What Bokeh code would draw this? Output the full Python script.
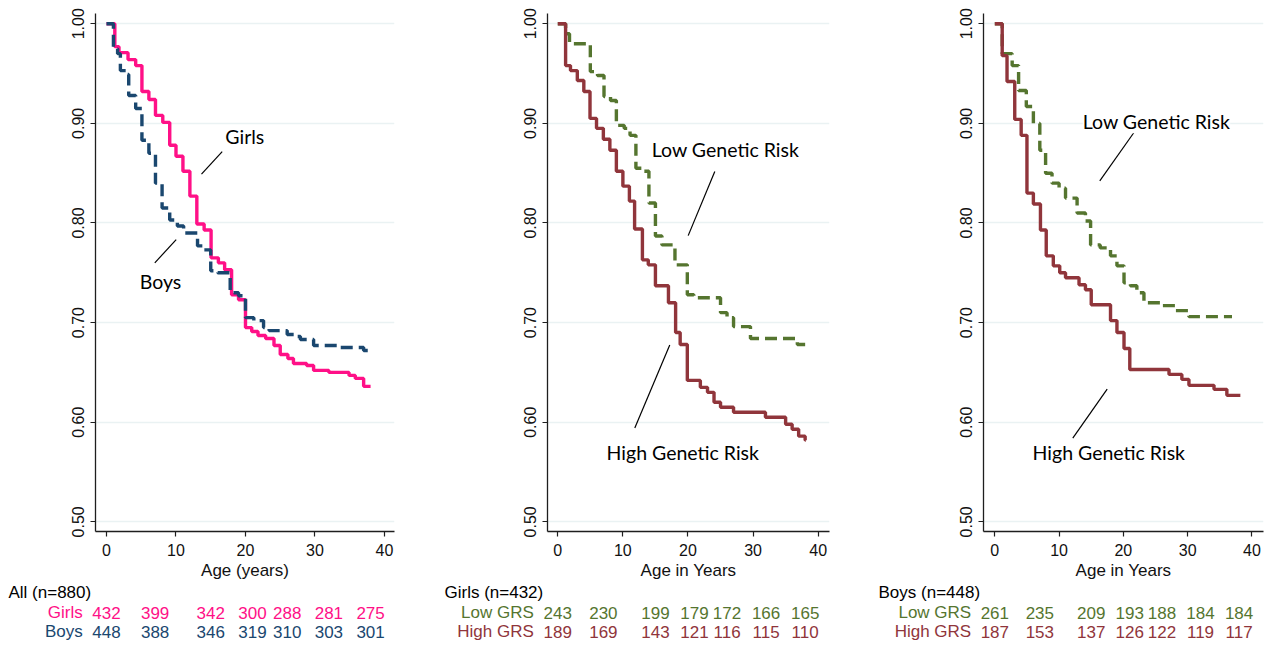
from bokeh.plotting import figure
from bokeh.layouts import row, column
from bokeh.models import Range1d, FixedTicker, PrintfTickFormatter, Label
from bokeh.embed import file_html
from bokeh.resources import INLINE
from bokeh.core.properties import value

# ---------------- data ----------------
x_ticks = [0, 10, 20, 30, 40]
y_ticks = [0.5, 0.6, 0.7, 0.8, 0.9, 1.0]

# Panel 1: all children
girls_age = [0, 1.2, 1.8, 3.1, 4.2, 5.1, 6.1, 7.05, 8.1, 9.1, 10.0, 11.0, 12.0, 13.0, 14.05, 15.05,
             16.1, 17.0, 18.0, 19.0, 20.0, 20.9, 21.8, 22.9, 24.1, 25.0, 26.1, 26.9, 28.8, 29.8,
             32.0, 34.9, 35.8, 37.0, 38.0]
girls_surv = [1.0, 0.977, 0.971, 0.964, 0.958, 0.932, 0.924, 0.908, 0.901, 0.878, 0.867, 0.852, 0.827,
              0.799, 0.793, 0.765, 0.760, 0.753, 0.728, 0.723, 0.695, 0.691, 0.687, 0.684, 0.677,
              0.668, 0.664, 0.659, 0.657, 0.652, 0.650, 0.647, 0.644, 0.636, 0.636]
boys_age = [0, 1.0, 1.6, 2.0, 2.8, 3.2, 4.2, 5.1, 6.1, 7.05, 8.0, 9.1, 10.2, 11.1, 13.1, 14.0, 15.0,
            16.0, 17.8, 19.0, 20.0, 21.2, 22.6, 23.4, 26.0, 27.0, 27.9, 29.8, 33.2, 37.0, 38.0]
boys_surv = [1.0, 0.975, 0.970, 0.953, 0.949, 0.928, 0.915, 0.883, 0.870, 0.840, 0.815, 0.803, 0.797,
             0.790, 0.777, 0.773, 0.752, 0.750, 0.730, 0.727, 0.705, 0.702, 0.695, 0.692, 0.688,
             0.686, 0.683, 0.677, 0.675, 0.672, 0.672]

# Panel 2: girls by genetic risk score
girls_low_age = [0, 1.2, 1.8, 5.0, 6.1, 7.1, 8.1, 9.0, 10.2, 11.1, 12.0, 13.0, 14.0, 15.0, 16.0, 18.0,
                 19.9, 20.9, 25.0, 26.0, 27.0, 29.6, 36.8, 38.0]
girls_low_surv = [1.0, 0.990, 0.980, 0.952, 0.948, 0.927, 0.923, 0.898, 0.895, 0.888, 0.855, 0.852,
                  0.820, 0.787, 0.778, 0.758, 0.728, 0.725, 0.710, 0.705, 0.696, 0.684, 0.678, 0.678]
girls_high_age = [0, 1.2, 1.95, 3.0, 4.0, 4.95, 5.95, 7.0, 8.0, 9.0, 10.0, 11.0, 11.8, 13.0, 13.9, 15.0,
                  17.0, 18.1, 18.8, 19.9, 21.9, 23.0, 24.0, 25.0, 27.0, 31.9, 35.0, 36.0, 37.0, 38.0, 38.1]
girls_high_surv = [1.0, 0.958, 0.953, 0.943, 0.932, 0.905, 0.895, 0.884, 0.873, 0.852, 0.837, 0.822,
                   0.794, 0.763, 0.758, 0.737, 0.720, 0.690, 0.678, 0.642, 0.635, 0.630, 0.620, 0.615,
                   0.610, 0.605, 0.598, 0.593, 0.586, 0.582, 0.582]

# Panel 3: boys by genetic risk score
boys_low_age = [0, 1.15, 2.7, 3.7, 4.9, 6.0, 7.0, 7.9, 8.9, 10.0, 11.0, 12.8, 14.1, 14.9, 16.4, 18.0,
                19.0, 20.1, 21.1, 22.1, 23.2, 26.0, 28.1, 30.2, 36.9]
boys_low_surv = [1.0, 0.970, 0.958, 0.933, 0.917, 0.900, 0.873, 0.850, 0.840, 0.835, 0.825, 0.810,
                 0.802, 0.778, 0.775, 0.767, 0.757, 0.740, 0.737, 0.730, 0.720, 0.717, 0.712, 0.706, 0.706]
boys_high_age = [0, 1.15, 1.9, 3.1, 4.1, 5.0, 6.0, 7.1, 8.0, 9.1, 10.1, 11.0, 13.1, 14.1, 15.0, 18.0,
                 19.0, 20.1, 21.0, 27.1, 29.1, 30.2, 34.1, 36.1, 38.2]
boys_high_surv = [1.0, 0.968, 0.942, 0.904, 0.888, 0.830, 0.819, 0.793, 0.767, 0.757, 0.750, 0.745,
                  0.738, 0.733, 0.718, 0.702, 0.690, 0.674, 0.653, 0.648, 0.643, 0.637, 0.633, 0.627, 0.627]

# numbers at risk
risk_ages = [0, 7, 15, 21, 26, 32, 38]
all_girls_n = [432, 399, 342, 300, 288, 281, 275]
all_boys_n = [448, 388, 346, 319, 310, 303, 301]
girls_low_n = [243, 230, 199, 179, 172, 166, 165]
girls_high_n = [189, 169, 143, 121, 116, 115, 110]
boys_low_n = [261, 235, 209, 193, 188, 184, 184]
boys_high_n = [187, 153, 137, 126, 122, 119, 117]

# ---------------- styling / layout ----------------
PINK = "#ff1087"
NAVY = "#1a476f"
MAROON = "#90353b"
GREEN = "#55752f"
GRID = "#eaf2f3"
AXIS = "#1e1e1e"
SANS = "Liberation Sans"
NOTE = "Lato"
NOTE_SIZE = "19.5px"
TABLE_SIZE = "17px"

MAIN_H = 582
TABLE_H = 63
FRAME_TOP = 13
FRAME_H = 520
Y_RANGE = (0.4903, 1.0103)
TOTAL_W = 1266
TABLE_ROWS_PX = [10, 30, 49]   # vertical centres of the table rows inside the table strip


def panel(col_w, left, frame_w, x_range, curves, notes, leaders, xlabel):
    right = col_w - left - frame_w
    p = figure(width=col_w, height=MAIN_H, x_range=Range1d(*x_range), y_range=Range1d(*Y_RANGE),
               output_backend="svg", toolbar_location=None,
               min_border_left=left, min_border_right=right,
               min_border_top=FRAME_TOP, min_border_bottom=MAIN_H - FRAME_TOP - FRAME_H)
    p.outline_line_color = None
    p.background_fill_color = "white"
    p.xgrid.grid_line_color = None
    p.ygrid.ticker = FixedTicker(ticks=y_ticks)
    p.ygrid.grid_line_color = GRID
    p.ygrid.grid_line_width = 1.6
    p.xaxis.ticker = FixedTicker(ticks=x_ticks)
    p.yaxis.ticker = FixedTicker(ticks=y_ticks)
    p.yaxis.formatter = PrintfTickFormatter(format="%.2f")
    p.yaxis.major_label_orientation = "vertical"
    for ax in (p.xaxis[0], p.yaxis[0]):
        ax.axis_line_color = AXIS
        ax.axis_line_width = 1.3
        ax.major_tick_line_color = AXIS
        ax.major_tick_line_width = 1.2
        ax.major_tick_out = 5
        ax.major_tick_in = 0
        ax.minor_tick_line_color = None
        ax.major_label_text_font = SANS
        ax.major_label_text_font_size = "16px"
        ax.major_label_text_color = "#111111"
    p.xaxis.major_label_standoff = 7
    p.yaxis.major_label_standoff = 6
    p.xaxis.axis_label = xlabel
    p.xaxis.axis_label_text_font = SANS
    p.xaxis.axis_label_text_font_size = "17px"
    p.xaxis.axis_label_text_font_style = "normal"
    p.xaxis.axis_label_text_color = "#111111"
    p.xaxis.axis_label_standoff = 2

    for ages, surv, color, dash in curves:
        p.step(ages, surv, mode="after", line_color=color, line_width=3.4, line_dash=dash)

    x0s, y0s, x1s, y1s = zip(*leaders)
    p.segment(list(x0s), list(y0s), list(x1s), list(y1s), line_color="black", line_width=1.2)
    for text, x, y in notes:
        p.add_layout(Label(x=x, y=y, text=text, text_align="center", text_baseline="middle",
                           text_font=NOTE, text_font_size=NOTE_SIZE, text_color="black",
                           background_fill_color="white", background_fill_alpha=1.0))
    return p


# (column offset, left border, frame width, x range) for each panel
PANELS = [
    (0, 95, 299, (-1.58, 41.44)),
    (420, 127, 282, (-1.58, 41.74)),
    (845, 138, 280, (-1.76, 41.8)),
]
COL_W = [420, 425, 421]

p1 = panel(COL_W[0], PANELS[0][1], PANELS[0][2], PANELS[0][3],
           [(girls_age, girls_surv, PINK, "solid"), (boys_age, boys_surv, NAVY, "12 6")],
           [("Girls", 19.9, 0.8866), ("Boys", 7.77, 0.7416)],
           [(16.65, 0.8716, 13.67, 0.849), (10.03, 0.7833, 6.95, 0.760)],
           "Age (years)")

p2 = panel(COL_W[1], PANELS[1][1], PANELS[1][2], PANELS[1][3],
           [(girls_low_age, girls_low_surv, GREEN, "12 6"), (girls_high_age, girls_high_surv, MAROON, "solid")],
           [("Low Genetic Risk", 25.76, 0.8733), ("High Genetic Risk", 19.2, 0.570)],
           [(24.12, 0.8516, 20.03, 0.7873), (17.2, 0.6776, 11.83, 0.5943)],
           "Age in Years")

p3 = panel(COL_W[2], PANELS[2][1], PANELS[2][2], PANELS[2][3],
           [(boys_low_age, boys_low_surv, GREEN, "12 6"), (boys_high_age, boys_high_surv, MAROON, "solid")],
           [("Low Genetic Risk", 25.15, 0.9016), ("High Genetic Risk", 17.73, 0.570)],
           [(21.73, 0.8916, 16.33, 0.8423), (17.48, 0.6333, 12.13, 0.584)],
           "Age in Years")

# ---------------- numbers-at-risk strip (one figure, each panel's age scale) ----------------
t = figure(width=TOTAL_W, height=TABLE_H, x_range=Range1d(0, TOTAL_W), y_range=Range1d(TABLE_H, 0),
           output_backend="svg", toolbar_location=None, x_axis_type=None, y_axis_type=None,
           min_border=0, min_border_left=0, min_border_right=0, min_border_top=0, min_border_bottom=0)
t.outline_line_color = None
t.grid.visible = False

TABLES = [
    ("All (n=880)", 8, 82.3, [("Girls", all_girls_n, PINK), ("Boys", all_boys_n, NAVY)]),
    ("Girls (n=432)", 444, 533.3, [("Low GRS", girls_low_n, GREEN), ("High GRS", girls_high_n, MAROON)]),
    ("Boys (n=448)", 878, 970.7, [("Low GRS", boys_low_n, GREEN), ("High GRS", boys_high_n, MAROON)]),
]

for k, ((off, left, fw, xr), (title, title_px, label_px, rows)) in enumerate(zip(PANELS, TABLES)):
    s = fw / (xr[1] - xr[0])
    ts = xr[0] - (off + left) / s
    name = "age%d" % k
    t.extra_x_ranges[name] = Range1d(ts, ts + TOTAL_W / s)

    def age_at(px):
        return ts + px / s

    t.text(x=[age_at(title_px)], y=[TABLE_ROWS_PX[0]], text=[title], x_range_name=name,
           text_align="left", text_baseline="middle", text_font=value(SANS),
           text_font_size=TABLE_SIZE, text_color="black")
    for i, (label, counts, color) in enumerate(rows):
        yy = TABLE_ROWS_PX[i + 1]
        t.text(x=[age_at(label_px)], y=[yy], text=[label], x_range_name=name,
               text_align="right", text_baseline="middle", text_font=value(SANS),
               text_font_size=TABLE_SIZE, text_color=color)
        t.text(x=risk_ages, y=[yy] * len(risk_ages), text=[str(n) for n in counts], x_range_name=name,
               text_align="center", text_baseline="middle", text_font=value(SANS),
               text_font_size=TABLE_SIZE, text_color=color)

layout = column(row(p1, p2, p3, spacing=0), t, spacing=0)

with open("out.html", "w") as f:
    f.write(file_html(layout, INLINE))
